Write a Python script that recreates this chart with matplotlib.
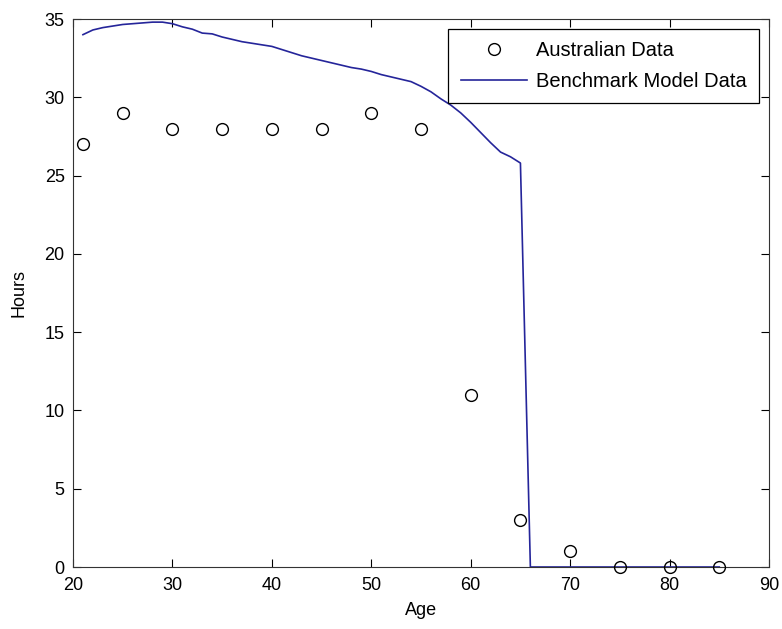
import numpy as np
import matplotlib
matplotlib.use('Agg')
import matplotlib.pyplot as plt

plt.rcParams['font.family'] = ['Liberation Sans', 'DejaVu Sans']

# observed hours by age
data_age = [21, 25, 30, 35, 40, 45, 50, 55, 60, 65, 70, 75, 80, 85]
data_hours = [27, 29, 28, 28, 28, 28, 29, 28, 11, 3, 1, 0, 0, 0]

# benchmark model, yearly ages 21..85
model_age = list(range(21, 86))
model_hours = [34.0, 34.3, 34.45, 34.55, 34.65, 34.7, 34.75, 34.8, 34.8, 34.7,
               34.5, 34.35, 34.1, 34.05, 33.85, 33.7, 33.55, 33.45, 33.35, 33.25,
               33.05, 32.85, 32.65, 32.5, 32.35, 32.2, 32.05, 31.9, 31.8, 31.65,
               31.45, 31.3, 31.15, 31.0, 30.7, 30.35, 29.9, 29.5, 29.0, 28.4,
               27.75, 27.1, 26.5, 26.2, 25.8] + [0.0] * 20

fig = plt.figure(figsize=(7.82, 6.29), dpi=100)
ax = fig.add_axes([73 / 782, 62 / 629, 696 / 782, 548 / 629])

ax.plot(data_age, data_hours, 'o', markersize=8.5, markerfacecolor='none',
        markeredgecolor='black', markeredgewidth=1, label='Australian Data',
        clip_on=False, zorder=3)
ax.plot(model_age, model_hours, color='#25259a', linewidth=1.2,
        label='Benchmark Model Data', clip_on=False)

ax.set_xlim(20, 90)
ax.set_ylim(0, 35)
ax.set_xticks(range(20, 91, 10))
ax.set_yticks(range(0, 36, 5))
ax.tick_params(direction='in', top=True, right=True, labelsize=13, length=6)
ax.tick_params(axis='x', pad=7)
ax.tick_params(axis='y', pad=6)
for s in ax.spines.values():
    s.set_color('#333333')
ax.set_xlabel('Age', fontsize=13, labelpad=6)
ax.set_ylabel('Hours', fontsize=13, labelpad=12)

leg = ax.legend(loc='upper right', fontsize=14.5, fancybox=False, framealpha=1,
                edgecolor='black', borderaxespad=0.5, handlelength=3.3,
                handletextpad=0.45, labelspacing=0.6, borderpad=0.6)
leg.get_frame().set_linewidth(0.9)

fig.savefig('out.png', dpi=100)
